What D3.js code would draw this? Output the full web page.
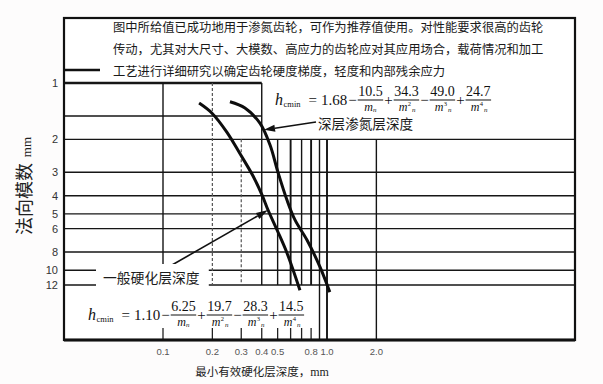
<!DOCTYPE html>
<html><head><meta charset="utf-8">
<script src="https://cdn.jsdelivr.net/npm/d3@7"></script>
<style>body{margin:0;background:#fdfcfc}svg{display:block}</style>
</head><body><svg id="c" width="603" height="384"></svg>
<script>
// ---------------- data ----------------
const noteLines = [
  "图中所给值已成功地用于渗氮齿轮，可作为推荐值使用。对性能要求很高的齿轮",
  "传动，尤其对大尺寸、大模数、高应力的齿轮应对其应用场合，载荷情况和加工",
  "工艺进行详细研究以确定齿轮硬度梯度，轻度和内部残余应力"
];
const xGridValues = [0.1, 0.2, 0.3, 0.4, 0.5, 0.6, 0.7, 0.8, 0.9, 1.0, 2.0];
const xTickValues = [0.1, 0.2, 0.3, 0.4, 0.5, 0.8, 1.0, 2.0];
const xTickLabels = ["0.1", "0.2", "0.3", "0.4", "0.5", "0.8", "1.0", "2.0"];
const yGridValues = [1, 1.5, 2, 3, 4, 5, 6, 8, 10, 12];
const yTickValues = [1, 2, 3, 4, 5, 6, 8, 10, 12];
const yTickLabels = ["1", "2", "3", "4", "5", "6", "8", "10", "12"];

// deep nitrided case depth curve (module m_n, depth h mm)
const deepModule = [1.26, 1.36, 1.64, 2.14, 2.99, 4.22, 5.39, 6.90, 9.61, 13.1];
const deepDepth  = [0.256, 0.316, 0.390, 0.449, 0.502, 0.570, 0.638, 0.755, 0.906, 1.04];
// general hardened case depth curve
const generalModule = [1.28, 1.45, 1.83, 2.39, 3.14, 3.97, 4.77, 6.10, 8.09, 12.8];
const generalDepth  = [0.166, 0.199, 0.245, 0.295, 0.354, 0.402, 0.437, 0.496, 0.570, 0.684];

const deepLabel = "深层渗氮层深度";
const generalLabel = "一般硬化层深度";
const deepCoef = ["1.68", "10.5", "34.3", "49.0", "24.7"];
const generalCoef = ["1.10", "6.25", "19.7", "28.3", "14.5"];
const termSigns = ["−", "+", "−", "+"];
const termPowers = ["", "2", "3", "4"];
const xTitle = "最小有效硬化层深度，";
const yTitle = "法向模数";
const unit = "mm";
// annotation arrows (data coords: depth, module)
const deepArrow = {from: [0.857, 1.615], to: [0.413, 1.78]};
const generalArrow = {from: [0.1135, 9.38], to: [0.437, 4.77]};

// ---------------- layout ----------------
const W = 603, H = 384;
const frame = {left: 64, right: 575, top: 18, bottom: 340};
const svg = d3.select('#c');
svg.append('rect').attr('width', W).attr('height', H).attr('fill', '#fdfcfc');
svg.append('rect').attr('x', frame.left).attr('y', frame.top)
  .attr('width', frame.right - frame.left).attr('height', frame.bottom - frame.top)
  .attr('fill', '#fff');

const x = d3.scaleLog().domain([0.1, 1]).range([163, 327]);
const y = d3.scaleLog().domain([1, 12]).range([83, 285]);

const CJK = "'Noto Sans CJK SC', 'Noto Sans', sans-serif";
const SERIF = "'Liberation Serif', 'DejaVu Serif', serif";
const SANS = "'Liberation Sans', Arial, sans-serif";

// note text
const note = svg.append('g').attr('font-family', CJK).attr('font-size', 12.3).attr('fill', '#1a1a1a');
noteLines.forEach((t, i) => {
  note.append('text').attr('x', 113).attr('y', 32 + i * 22).text(t);
});
svg.append('line').attr('x1', frame.left).attr('x2', 100).attr('y1', 70).attr('y2', 70)
  .attr('stroke', '#111').attr('stroke-width', 2.5);

// horizontal grid
const grid = svg.append('g');
yGridValues.forEach(v => {
  grid.append('line')
    .attr('x1', frame.left)
    .attr('x2', v < 2 ? x(0.4) : frame.right)
    .attr('y1', y(v)).attr('y2', y(v))
    .attr('stroke', '#161616')
    .attr('stroke-width', v === 1 ? 2.6 : 1.4);
});

// vertical grid
xGridValues.forEach(v => {
  const fromTop = [0.1, 0.2, 0.4].includes(v);
  const toBottom = v >= 0.9;
  const dashed = (v === 0.2 || v === 0.3);
  grid.append('line')
    .attr('x1', x(v)).attr('x2', x(v))
    .attr('y1', fromTop ? y(1) : y(2))
    .attr('y2', toBottom ? frame.bottom : y(12))
    .attr('stroke', dashed ? '#555' : '#141414')
    .attr('stroke-width', dashed ? 1.2 : (v === 0.8 || v === 1.0 || v === 0.6 ? 1.9 : 1.4))
    .attr('stroke-dasharray', dashed ? '3,2' : null);
  if (!toBottom) {
    grid.append('line')
      .attr('x1', x(v)).attr('x2', x(v))
      .attr('y1', frame.bottom - 12).attr('y2', frame.bottom)
      .attr('stroke', '#222').attr('stroke-width', 1.3);
  }
});

// frame
svg.append('rect').attr('x', frame.left).attr('y', frame.top)
  .attr('width', frame.right - frame.left).attr('height', frame.bottom - frame.top)
  .attr('fill', 'none').attr('stroke', '#111').attr('stroke-width', 2.2);
svg.append('line').attr('x1', frame.left).attr('x2', frame.right)
  .attr('y1', frame.bottom).attr('y2', frame.bottom).attr('stroke', '#111').attr('stroke-width', 3);

// curves
const line = d3.line().x(d => x(d[0])).y(d => y(d[1])).curve(d3.curveCatmullRom);
const deepPts = deepDepth.map((h, i) => [h, deepModule[i]]);
const genPts = generalDepth.map((h, i) => [h, generalModule[i]]);
[deepPts, genPts].forEach(p => {
  svg.append('path').attr('d', line(p)).attr('fill', 'none')
    .attr('stroke', '#0d0d0d').attr('stroke-width', 3).attr('stroke-linecap', 'butt');
});

// arrows
function arrow(a, headLen, headW) {
  const x1 = x(a.from[0]), y1 = y(a.from[1]), x2 = x(a.to[0]), y2 = y(a.to[1]);
  const ang = Math.atan2(y2 - y1, x2 - x1);
  const bx = x2 - headLen * Math.cos(ang), by = y2 - headLen * Math.sin(ang);
  svg.append('line').attr('x1', x1).attr('y1', y1).attr('x2', bx).attr('y2', by)
    .attr('stroke', '#111').attr('stroke-width', 1.6);
  const px = -Math.sin(ang) * headW / 2, py = Math.cos(ang) * headW / 2;
  svg.append('path')
    .attr('d', `M${x2},${y2}L${bx + px},${by + py}L${bx - px},${by - py}Z`)
    .attr('fill', '#111');
}
arrow(deepArrow, 11, 7);
arrow(generalArrow, 12, 7);

// labels
svg.append('text').attr('x', 318).attr('y', 129).attr('font-family', CJK)
  .attr('font-size', 13.6).attr('fill', '#1c1c1c').text(deepLabel);
const gl = svg.append('g');
const glBg = gl.append('rect').attr('fill', '#fff');
const glT = gl.append('text').attr('x', 103).attr('y', 283).attr('font-family', CJK)
  .attr('font-size', 13.8).attr('fill', '#1c1c1c').text(generalLabel);
const bb = glT.node().getBBox();
glBg.attr('x', 96).attr('y', 264).attr('width', bb.x + bb.width + 9 - 96).attr('height', 28);

// formulas
function formula(x0, bar, coef) {
  const g = svg.append('g').attr('font-family', SERIF).attr('fill', '#111');
  let cx = x0;
  const main = bar + 4.5;
  const add = (txt, size, yy, italic, gap) => {
    const t = g.append('text').attr('x', cx).attr('y', yy).attr('font-size', size)
      .attr('font-style', italic ? 'italic' : null).text(txt);
    cx += t.node().getComputedTextLength() + (gap || 0);
    return t;
  };
  add('h', 16, main, true, 0.5);
  add('cmin', 8.5, main + 2, false, 8);
  add('=', 15, main, false, 4);
  add(coef[0], 15, main, false, 1);
  termSigns.forEach((s, i) => {
    add(s, 15, main, false, 1);
    const num = g.append('text').attr('font-size', 14).attr('y', bar - 4).text(coef[i + 1]);
    const nw = num.node().getComputedTextLength();
    // denominator
    const den = g.append('text').attr('y', bar + 10.5);
    den.append('tspan').attr('font-size', 12).attr('font-style', 'italic').text('m');
    if (termPowers[i]) den.append('tspan').attr('font-size', 6.5).attr('dy', -5).attr('dx', 0.5).text(termPowers[i]);
    den.append('tspan').attr('font-size', 7).attr('font-style', 'italic')
      .attr('dy', termPowers[i] ? 6.5 : 1.5).attr('dx', termPowers[i] ? 1 : 0).text('n');
    const dw = den.node().getComputedTextLength();
    const fw = Math.max(nw, dw) + 1;
    num.attr('x', cx + (fw - nw) / 2);
    den.attr('x', cx + (fw - dw) / 2);
    g.append('line').attr('x1', cx).attr('x2', cx + fw).attr('y1', bar).attr('y2', bar)
      .attr('stroke', '#111').attr('stroke-width', 1);
    cx += fw + 1;
  });
}
formula(275, 100, deepCoef);
formula(88, 315, generalCoef);

// y ticks
const yt = svg.append('g').attr('font-family', SANS).attr('font-size', 11).attr('fill', '#333')
  .attr('text-anchor', 'end');
yTickValues.forEach((v, i) => {
  yt.append('text').attr('x', 58).attr('y', y(v)).attr('dy', '0.36em').text(yTickLabels[i]);
});
// x ticks
const xt = svg.append('g').attr('font-family', SANS).attr('font-size', 9.5).attr('fill', '#555')
  .attr('text-anchor', 'middle');
xTickValues.forEach((v, i) => {
  xt.append('text').attr('x', x(v)).attr('y', 355).text(xTickLabels[i]);
});

// axis titles
const xtT = svg.append('text').attr('x', 262).attr('y', 376).attr('text-anchor', 'middle')
  .attr('font-family', CJK).attr('font-size', 11.5).attr('fill', '#222');
xtT.append('tspan').text(xTitle);
xtT.append('tspan').attr('font-family', SERIF).attr('font-size', 12).text(unit);

const ytT = svg.append('text').attr('transform', 'translate(31,186) rotate(-90)')
  .attr('text-anchor', 'middle').attr('font-family', CJK).attr('font-size', 18).attr('fill', '#222');
ytT.append('tspan').text(yTitle);
ytT.append('tspan').attr('font-family', SERIF).attr('font-size', 13).attr('dx', 6).text(unit);
</script>
</body></html>
